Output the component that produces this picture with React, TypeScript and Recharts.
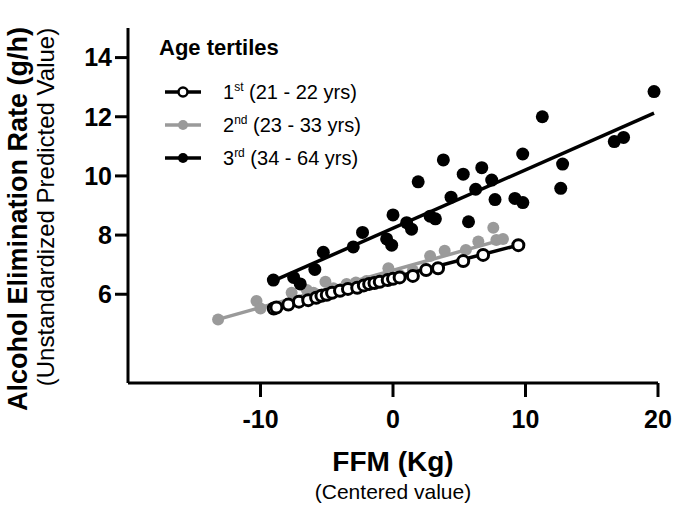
import React from 'react';
import { ScatterChart, Scatter, XAxis, YAxis } from 'recharts';

// 1st tertile (21 - 22 yrs): open circles
const firstX = [-9.0, -8.8, -7.9, -7.1, -6.4, -5.8, -5.4, -5.0, -4.6, -4.0, -3.4, -2.7, -2.2, -1.8, -1.4, -1.0, -0.4, 0.0, 0.5, 1.5, 2.5, 3.4, 5.3, 6.8, 9.46];
const firstY = [5.52, 5.55, 5.65, 5.75, 5.8, 5.88, 5.95, 5.98, 6.05, 6.12, 6.18, 6.22, 6.3, 6.35, 6.38, 6.42, 6.48, 6.52, 6.57, 6.62, 6.82, 6.88, 7.12, 7.33, 7.66];
const firstFit = [[-9.0, 5.52], [9.46, 7.66]];

// 2nd tertile (23 - 33 yrs): grey dots
const secondX = [-13.2, -10.3, -10.0, -7.65, -6.5, -6.0, -5.1, -4.5, -3.5, -2.8, -2.0, -1.2, -0.35, 0.5, 1.5, 2.8, 3.9, 5.5, 6.44, 7.57, 7.8, 8.3];
const secondY = [5.15, 5.77, 5.52, 6.05, 6.14, 6.05, 6.42, 6.2, 6.35, 6.4, 6.45, 6.5, 6.88, 6.65, 6.8, 7.29, 7.47, 7.5, 7.78, 8.25, 7.83, 7.87];
const secondFit = [[-13.2, 5.15], [8.6, 7.89]];

// 3rd tertile (34 - 64 yrs): black dots
const thirdX = [-9.03, -7.5, -7.0, -5.9, -5.26, -3.0, -2.3, -0.48, -0.1, 0.0, 1.03, 1.4, 1.9, 2.8, 3.2, 3.8, 4.38, 5.3, 5.7, 6.24, 6.7, 7.45, 7.7, 9.2, 9.8, 9.79, 11.27, 12.66, 12.8, 16.7, 17.4, 19.7];
const thirdY = [6.48, 6.57, 6.35, 6.84, 7.42, 7.6, 8.09, 7.87, 7.66, 8.68, 8.42, 8.2, 9.8, 8.64, 8.55, 10.54, 9.28, 10.06, 8.45, 9.55, 10.28, 9.86, 9.2, 9.24, 9.1, 10.74, 12.0, 9.58, 10.4, 11.16, 11.3, 12.85];
const thirdFit = [[-9.03, 6.45], [19.7, 12.12]];

const xTicks = [-10, 0, 10, 20];
const yTicks = [6, 8, 10, 12, 14];

const FONT = '"Liberation Sans", Arial, sans-serif';
const GREY = '#9a9a9a';

const toPoints = (xs: number[], ys: number[]) => xs.map((x, i) => ({ x, y: ys[i] }));
const fitPoints = (f: number[][]) => f.map(([x, y]) => ({ x, y }));

const openDot = (p: any) => <circle cx={p.cx} cy={p.cy} r={5.5} fill="#fff" stroke="#000" strokeWidth={3} />;
const greyDot = (p: any) => <circle cx={p.cx} cy={p.cy} r={6} fill={GREY} />;
const blackDot = (p: any) => <circle cx={p.cx} cy={p.cy} r={6.5} fill="#000" />;
const noDot = () => <g />;

const legendRows = [
  { n: '1', sup: 'st', rest: ' (21 - 22 yrs)', color: '#000', open: true },
  { n: '2', sup: 'nd', rest: ' (23 - 33 yrs)', color: GREY, open: false },
  { n: '3', sup: 'rd', rest: ' (34 - 64 yrs)', color: '#000', open: false },
];

function AgeLegend() {
  return (
    <div style={{ position: 'absolute', left: 159, top: 37, fontFamily: FONT, color: '#000', lineHeight: 1 }}>
      <div style={{ fontWeight: 'bold', fontSize: 22, height: 38 }}>Age tertiles</div>
      {legendRows.map(r => (
        <div key={r.n} style={{ display: 'flex', alignItems: 'center', height: 33 }}>
          <svg width={40} height={16} style={{ marginLeft: 4 }}>
            <line x1={2} y1={8} x2={38} y2={8} stroke={r.color} strokeWidth={3.5} />
            {r.open
              ? <circle cx={20} cy={8} r={4.5} fill="#fff" stroke="#000" strokeWidth={2.5} />
              : <circle cx={20} cy={8} r={5} fill={r.color} />}
          </svg>
          <span style={{ fontSize: 20, marginLeft: 20 }}>
            {r.n}<sup style={{ fontSize: 12 }}>{r.sup}</sup>{r.rest}
          </span>
        </div>
      ))}
    </div>
  );
}

const yLabel = () => (
  <g fontFamily={FONT} fill="#000">
    <text x={27} y={219} transform="rotate(-90, 27, 219)" textAnchor="middle" fontWeight="bold" fontSize={27}>
      Alcohol Elimination Rate (g/h)
    </text>
    <text x={54} y={207} transform="rotate(-90, 54, 207)" textAnchor="middle" fontSize={24}>
      (Unstandardized Predicted Value)
    </text>
  </g>
);

const xLabel = () => (
  <g fontFamily={FONT} fill="#000">
    <text x={393} y={471} textAnchor="middle" fontWeight="bold" fontSize={28}>FFM (Kg)</text>
    <text x={393} y={499} textAnchor="middle" fontSize={21}>(Centered value)</text>
  </g>
);

export default function App() {
  return (
    <div style={{ position: 'absolute', left: 0, top: 0, width: 675, height: 507, background: '#fff' }}>
      <ScatterChart width={675} height={507} margin={{ top: 28, right: 17, bottom: 0, left: 0 }}>
        <XAxis
          type="number"
          dataKey="x"
          domain={[-20, 20]}
          ticks={xTicks}
          height={124}
          axisLine={{ stroke: '#000', strokeWidth: 3 }}
          tickLine={{ stroke: '#000', strokeWidth: 3 }}
          tickSize={14}
          tickMargin={13}
          tick={{ fill: '#000', fontSize: 25, fontWeight: 'bold', fontFamily: FONT }}
          label={{ content: xLabel }}
        />
        <YAxis
          type="number"
          dataKey="y"
          domain={[3, 15]}
          ticks={yTicks}
          width={128}
          axisLine={{ stroke: '#000', strokeWidth: 3 }}
          tickLine={{ stroke: '#000', strokeWidth: 3 }}
          tickSize={13}
          tickMargin={3}
          tick={{ fill: '#000', fontSize: 25, fontWeight: 'bold', fontFamily: FONT }}
          label={{ content: yLabel }}
        />
        <Scatter data={fitPoints(secondFit)} line={{ stroke: GREY, strokeWidth: 3.5 }} shape={noDot} isAnimationActive={false} />
        <Scatter data={toPoints(secondX, secondY)} shape={greyDot} isAnimationActive={false} />
        <Scatter data={fitPoints(thirdFit)} line={{ stroke: '#000', strokeWidth: 3.5 }} shape={noDot} isAnimationActive={false} />
        <Scatter data={toPoints(thirdX, thirdY)} shape={blackDot} isAnimationActive={false} />
        <Scatter data={fitPoints(firstFit)} line={{ stroke: '#000', strokeWidth: 3.5 }} shape={noDot} isAnimationActive={false} />
        <Scatter data={toPoints(firstX, firstY)} shape={openDot} isAnimationActive={false} />
      </ScatterChart>
      <AgeLegend />
    </div>
  );
}
